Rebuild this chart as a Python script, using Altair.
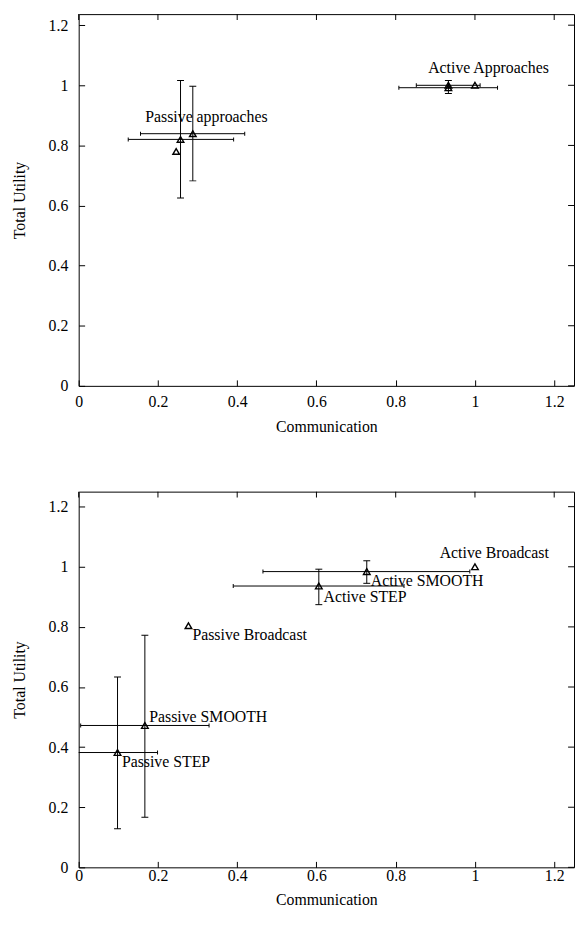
import altair as alt
import pandas as pd

FONT = "Liberation Serif"
X_TICKS = [0, 0.2, 0.4, 0.6, 0.8, 1.0, 1.2]
Y_TICKS = [0, 0.2, 0.4, 0.6, 0.8, 1.0, 1.2]
X_MAX = 1.25

# ---- top panel data ----
top_x = [0.257, 0.288, 0.246, 0.933, 0.933, 1.000]
top_y = [0.820, 0.839, 0.780, 0.992, 1.000, 1.000]
top_xlo = [0.125, 0.156, None, 0.808, 0.852, None]
top_xhi = [0.391, 0.419, None, 1.057, 1.013, None]
top_ylo = [0.625, 0.682, None, None, 0.973, None]
top_yhi = [1.016, 0.997, None, None, 1.016, None]
top_labels = ["Passive approaches", "Active Approaches"]
top_label_x = [0.168, 0.882]
top_label_y = [0.896, 1.057]

# ---- bottom panel data ----
bot_x = [1.000, 0.727, 0.606, 0.277, 0.167, 0.098]
bot_y = [1.000, 0.984, 0.936, 0.804, 0.472, 0.382]
bot_xlo = [None, 0.465, 0.390, None, 0.005, -0.003]
bot_xhi = [None, 0.987, 0.821, None, 0.329, 0.199]
bot_ylo = [None, 0.945, 0.874, None, 0.167, 0.128]
bot_yhi = [None, 1.020, 0.992, None, 0.772, 0.633]
bot_labels = ["Active Broadcast", "Active SMOOTH", "Active STEP",
              "Passive Broadcast", "Passive SMOOTH", "Passive STEP"]
bot_label_x = [0.911, 0.737, 0.618, 0.287, 0.178, 0.109]
bot_label_y = [1.045, 0.952, 0.899, 0.773, 0.499, 0.349]

AXIS_STYLE = dict(labelFont=FONT, titleFont=FONT, labelFontSize=16, titleFontSize=16,
                  titleFontWeight="normal", labelColor="black", titleColor="black",
                  tickColor="black", tickWidth=1, domain=False, grid=False,
                  offset=-6, tickSize=6, labelFlush=False)


def panel(px, py, pxlo, pxhi, pylo, pyhi, labels, lx, ly, ymax, height, xlp, xtp):
    pts = pd.DataFrame(dict(x=px, y=py, xlo=pxlo, xhi=pxhi, ylo=pylo, yhi=pyhi))
    hbar = pts.dropna(subset=["xlo"])
    vbar = pts.dropna(subset=["ylo"])
    lab = pd.DataFrame(dict(text=labels, x=lx, y=ly))
    top_ticks = pd.DataFrame(dict(x=X_TICKS, y=[ymax] * len(X_TICKS)))
    right_ticks = pd.DataFrame(dict(x=[X_MAX] * len(Y_TICKS), y=Y_TICKS))

    xsc = alt.Scale(domain=[0, X_MAX], nice=False, zero=False)
    ysc = alt.Scale(domain=[0, ymax], nice=False, zero=False)

    xax = alt.Axis(values=X_TICKS, format="~g", labelPadding=xlp, titlePadding=xtp,
                   title="Communication", **AXIS_STYLE)
    yax = alt.Axis(values=Y_TICKS, format="~g", labelPadding=11, titlePadding=21,
                   title="Total Utility", **AXIS_STYLE)

    def X(f):
        return alt.X(f, scale=xsc, axis=xax, title="Communication")

    def Y(f):
        return alt.Y(f, scale=ysc, axis=yax, title="Total Utility")

    hrule = alt.Chart(hbar).mark_rule(color="black", strokeWidth=1, clip=True).encode(
        x=X("xlo:Q"), x2="xhi:Q", y=Y("y:Q"))
    hcap_l = alt.Chart(hbar).mark_tick(orient="vertical", size=4, thickness=1,
                                       color="black", clip=True, opacity=1).encode(
        x=X("xlo:Q"), y=Y("y:Q"))
    hcap_r = alt.Chart(hbar).mark_tick(orient="vertical", size=4, thickness=1,
                                       color="black", clip=True, opacity=1).encode(
        x=X("xhi:Q"), y=Y("y:Q"))
    vrule = alt.Chart(vbar).mark_rule(color="black", strokeWidth=1, clip=True).encode(
        x=X("x:Q"), y=Y("ylo:Q"), y2="yhi:Q")
    vcap_l = alt.Chart(vbar).mark_tick(orient="horizontal", size=7, thickness=1,
                                       color="black", clip=True, opacity=1).encode(
        x=X("x:Q"), y=Y("ylo:Q"))
    vcap_h = alt.Chart(vbar).mark_tick(orient="horizontal", size=7, thickness=1,
                                       color="black", clip=True, opacity=1).encode(
        x=X("x:Q"), y=Y("yhi:Q"))
    tticks = alt.Chart(top_ticks).mark_tick(orient="vertical", size=6, thickness=1,
                                            yOffset=3, color="black", opacity=1).encode(
        x=X("x:Q"), y=Y("y:Q"))
    rticks = alt.Chart(right_ticks).mark_tick(orient="horizontal", size=6, thickness=1,
                                              xOffset=-3, color="black", opacity=1).encode(
        x=X("x:Q"), y=Y("y:Q"))
    points = alt.Chart(pts).mark_point(shape="triangle-up", filled=False, size=45,
                                       color="black", strokeWidth=1.4, opacity=1).encode(
        x=X("x:Q"), y=Y("y:Q"))
    text = alt.Chart(lab).mark_text(align="left", baseline="middle", font=FONT,
                                    fontSize=16, color="black").encode(
        x=X("x:Q"), y=Y("y:Q"), text="text:N")
    return alt.layer(points, tticks, rticks, hrule, hcap_l, hcap_r, vrule, vcap_l,
                     vcap_h, text).properties(width=501, height=height)


top = panel(top_x, top_y, top_xlo, top_xhi, top_ylo, top_yhi,
            top_labels, top_label_x, top_label_y, 376 / 304, 376, 7.7, 9.3)
bottom = panel(bot_x, bot_y, bot_xlo, bot_xhi, bot_ylo, bot_yhi,
               bot_labels, bot_label_x, bot_label_y, 1.25, 380, 0, 8.5)

chart = alt.vconcat(top, bottom, spacing=56).properties(
    padding={"left": 2.5, "top": 0, "right": 0, "bottom": 0}
).configure_view(stroke="black", strokeWidth=1)

chart.save("out.html", embed_options={"renderer": "svg", "actions": False})
